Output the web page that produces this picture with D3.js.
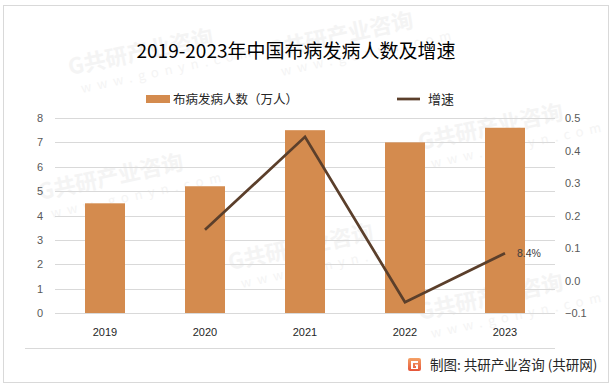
<!DOCTYPE html>
<html>
<head>
<meta charset="utf-8">
<script src="https://cdn.jsdelivr.net/npm/d3@7"></script>
<style>
  body { margin: 0; background: #fff; }
  svg { display: block; font-family: "Noto Sans CJK SC", "Liberation Sans", sans-serif; }
</style>
</head>
<body>
<script>
// chart data
const years = ['2019', '2020', '2021', '2022', '2023'];
const cases = [4.5, 5.2, 7.5, 7.0, 7.6];          // 万人
const growth = [null, 0.156, 0.442, -0.067, 0.084];
const leftTicks = [0, 1, 2, 3, 4, 5, 6, 7, 8];
const rightTicks = [-0.1, 0, 0.1, 0.2, 0.3, 0.4, 0.5];

const w = 613, h = 387;
const m = {top: 118, right: 58, bottom: 74, left: 55};

const svg = d3.select('body').append('svg')
    .attr('width', w)
    .attr('height', h);

svg.append('rect')
    .attr('x', 3.5).attr('y', 5.5)
    .attr('width', 605).attr('height', 377)
    .attr('fill', '#fff')
    .attr('stroke', '#d9d9d9');

// faint watermarks
const wm = svg.append('g').attr('fill', '#f4f4f4').attr('font-weight', 'bold');
const marks = [[70, 75], [270, 58], [420, 150], [40, 200], [230, 270], [420, 320]];
marks.forEach(([x, y]) => {
    const g = wm.append('g').attr('transform', `translate(${x},${y}) rotate(-12)`);
    g.append('text').attr('font-size', 22).text('G共研产业咨询');
    g.append('text').attr('y', 20).attr('x', 8).attr('font-size', 13)
        .attr('letter-spacing', 6).attr('font-weight', 'normal').text('www.gonyn.com');
});

const x = d3.scaleBand()
    .domain(years)
    .range([m.left, w - m.right])
    .paddingInner(0.6)
    .paddingOuter(0.3);

const yL = d3.scaleLinear().domain([0, 8]).range([h - m.bottom, m.top]);
const yR = d3.scaleLinear().domain([-0.1, 0.5]).range([h - m.bottom, m.top]);

// gridlines
svg.append('g')
    .selectAll('line')
    .data(leftTicks)
    .join('line')
    .attr('x1', m.left).attr('x2', w - m.right)
    .attr('y1', d => Math.round(yL(d)) + 0.5)
    .attr('y2', d => Math.round(yL(d)) + 0.5)
    .attr('stroke', '#d9d9d9');

// left axis
svg.append('g')
    .attr('transform', `translate(${m.left - 12},0)`)
    .call(d3.axisLeft(yL).tickValues(leftTicks).tickSize(0).tickPadding(0))
    .call(g => g.select('.domain').remove())
    .selectAll('text')
    .attr('font-size', 11)
    .attr('fill', '#595959')
    .attr('font-family', 'Liberation Sans, sans-serif');

// right axis
svg.append('g')
    .attr('transform', `translate(${w - m.right + 10},0)`)
    .call(d3.axisRight(yR).tickValues(rightTicks).tickSize(0).tickPadding(0).tickFormat(d3.format('.1f')))
    .call(g => g.select('.domain').remove())
    .selectAll('text')
    .attr('font-size', 11)
    .attr('fill', '#595959')
    .attr('font-family', 'Liberation Sans, sans-serif');

// bars
svg.append('g')
    .selectAll('rect')
    .data(years)
    .join('rect')
    .attr('x', d => x(d))
    .attr('y', (d, i) => yL(cases[i]))
    .attr('width', x.bandwidth())
    .attr('height', (d, i) => yL(0) - yL(cases[i]))
    .attr('fill', '#d48b4e');

// growth line
const pts = years.map((d, i) => ({year: d, v: growth[i]})).filter(d => d.v != null);
const line = d3.line()
    .x(d => x(d.year) + x.bandwidth() / 2)
    .y(d => yR(d.v));

svg.append('path')
    .datum(pts)
    .attr('d', line)
    .attr('fill', 'none')
    .attr('stroke', '#5b3f2b')
    .attr('stroke-width', 2.75)
    .attr('stroke-linejoin', 'miter');

const last = pts[pts.length - 1];
svg.append('text')
    .attr('x', x(last.year) + x.bandwidth() / 2 + 12)
    .attr('y', yR(last.v) + 4)
    .attr('font-size', 10.5)
    .attr('fill', '#404040')
    .attr('font-family', 'Liberation Sans, sans-serif')
    .text(d3.format('.1%')(last.v));

// x labels
svg.append('g')
    .selectAll('text')
    .data(years)
    .join('text')
    .attr('x', d => x(d) + x.bandwidth() / 2)
    .attr('y', 336)
    .attr('text-anchor', 'middle')
    .attr('font-size', 11)
    .attr('fill', '#262626')
    .attr('font-family', 'Liberation Sans, sans-serif')
    .text(d => d);

// title
svg.append('text')
    .attr('x', 296)
    .attr('y', 58)
    .attr('text-anchor', 'middle')
    .attr('font-size', 19)
    .attr('fill', '#000')
    .text('2019-2023年中国布病发病人数及增速');

// legend
svg.append('rect')
    .attr('x', 146).attr('y', 95)
    .attr('width', 24).attr('height', 8)
    .attr('fill', '#d48b4e');
svg.append('text')
    .attr('x', 173).attr('y', 104)
    .attr('font-size', 12.5)
    .attr('fill', '#262626')
    .text('布病发病人数（万人）');
svg.append('line')
    .attr('x1', 397).attr('x2', 420)
    .attr('y1', 99).attr('y2', 99)
    .attr('stroke', '#5b3f2b')
    .attr('stroke-width', 2.75);
svg.append('text')
    .attr('x', 428).attr('y', 104)
    .attr('font-size', 13)
    .attr('fill', '#262626')
    .text('增速');

// footer
svg.append('line')
    .attr('x1', 25).attr('x2', 555)
    .attr('y1', 348.5).attr('y2', 348.5)
    .attr('stroke', '#d9d9d9');

const grad = svg.append('defs').append('linearGradient')
    .attr('id', 'logo').attr('x1', 0).attr('y1', 0).attr('x2', 0).attr('y2', 1);
grad.append('stop').attr('offset', 0).attr('stop-color', '#f5a266');
grad.append('stop').attr('offset', 1).attr('stop-color', '#e5553a');

const logo = svg.append('g').attr('transform', 'translate(408,358)');
logo.append('rect').attr('width', 13).attr('height', 13).attr('rx', 2).attr('fill', 'url(#logo)');
logo.append('path')
    .attr('d', 'M3,3 H10 V5 H5 V10 H8 V8 H7 V6.5 H10 V11 H3 Z')
    .attr('fill', '#fff');

svg.append('text')
    .attr('x', 430).attr('y', 370)
    .attr('font-size', 13.5)
    .attr('fill', '#262626')
    .text('制图: 共研产业咨询 (共研网)');
</script>
</body>
</html>
